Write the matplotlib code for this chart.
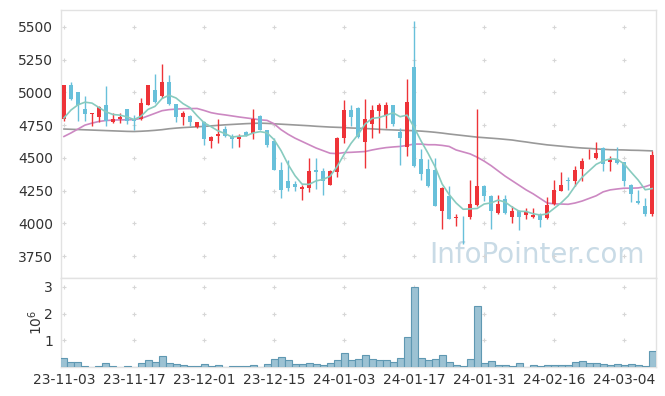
import matplotlib
matplotlib.use("Agg")
import matplotlib.pyplot as plt
import numpy as np

# trading-day tick labels (every 10th session)
tick_labels = ["23-11-03", "23-11-17", "23-12-01", "23-12-15", "24-01-03",
               "24-01-17", "24-01-31", "24-02-16", "24-03-04"]

opens = [4800, 5060, 5005, 4875, 4835, 4810, 4900, 4770, 4795, 4875,
         4800, 4800, 4905, 5020, 4970, 5080, 4910, 4810, 4820, 4735,
         4775, 4625, 4670, 4720, 4670, 4640, 4700, 4690, 4820, 4715,
         4630, 4410, 4320, 4300, 4265, 4270, 4410, 4400, 4295, 4395,
         4650, 4865, 4880, 4620, 4760, 4855, 4825, 4900, 4695, 4585,
         5190, 4490, 4415, 4405, 4090, 4210, 4040, 4050, 4045, 4140,
         4285, 4210, 4075, 4185, 4045, 4095, 4065, 4045, 4065, 4040,
         4145, 4250, 4330, 4320, 4415, 4495, 4495, 4575, 4465, 4490,
         4465, 4295, 4170, 4135, 4070]
highs = [5060, 5080, 5005, 4970, 4845, 4895, 5050, 4840, 4840, 4875,
         4830, 4960, 5060, 5140, 5220, 5135, 4910, 4855, 4830, 4775,
         4780, 4665, 4795, 4740, 4685, 4680, 4705, 4870, 4830, 4715,
         4655, 4465, 4480, 4325, 4290, 4500, 4500, 4420, 4410, 4660,
         4945, 4900, 4885, 4950, 4905, 4915, 4925, 4905, 4730, 5100,
         5545, 4565, 4490, 4495, 4280, 4285, 4070, 4055, 4330, 4870,
         4290, 4215, 4215, 4215, 4130, 4100, 4115, 4115, 4075, 4200,
         4330, 4390, 4355, 4440, 4500, 4565, 4620, 4580, 4515, 4580,
         4470, 4300, 4255, 4190, 4550]
lows = [4780, 4940, 4780, 4780, 4745, 4770, 4745, 4765, 4765, 4760,
        4710, 4790, 4900, 4920, 4960, 4905, 4775, 4750, 4740, 4730,
        4600, 4575, 4610, 4660, 4575, 4580, 4670, 4645, 4710, 4585,
        4405, 4190, 4245, 4245, 4175, 4240, 4265, 4215, 4290, 4350,
        4610, 4740, 4655, 4420, 4650, 4690, 4730, 4740, 4445, 4515,
        4430, 4330, 4280, 4130, 3955, 4030, 3980, 3845, 4030, 4135,
        4170, 3955, 4070, 4070, 4005, 3945, 4030, 4040, 3970, 4035,
        4140, 4245, 4255, 4285, 4325, 4490, 4490, 4400, 4400, 4455,
        4285, 4160, 4150, 4055, 4055]
closes = [5060, 4950, 4900, 4835, 4845, 4890, 4785, 4800, 4810, 4780,
          4785, 4915, 5060, 4925, 5080, 4910, 4810, 4845, 4770, 4775,
          4640, 4660, 4685, 4665, 4645, 4670, 4675, 4795, 4715, 4600,
          4410, 4255, 4270, 4280, 4280, 4400, 4390, 4325, 4400, 4650,
          4865, 4815, 4660, 4800, 4865, 4900, 4900, 4755, 4650, 4925,
          4435, 4375, 4285, 4135, 4270, 4035, 4050, 4045, 4150, 4285,
          4205, 4095, 4150, 4075, 4095, 4045, 4085, 4065, 4025, 4140,
          4255, 4295, 4325, 4410, 4475, 4502, 4540, 4455, 4490, 4460,
          4320, 4225, 4155, 4070, 4525]

ma5 = [4805, 4865, 4905, 4925, 4918, 4884, 4851, 4831, 4826, 4813,
       4792, 4818, 4870, 4893, 4953, 4978, 4957, 4914, 4883, 4822,
       4768, 4738, 4706, 4685, 4659, 4665, 4668, 4690, 4700, 4691,
       4639, 4555, 4450, 4363, 4299, 4297, 4324, 4335, 4359, 4433,
       4526, 4611, 4678, 4758, 4801, 4808, 4825, 4844, 4814, 4826,
       4733, 4628, 4534, 4431, 4300, 4220, 4155, 4107, 4110, 4113,
       4147, 4156, 4177, 4162, 4124, 4092, 4090, 4073, 4063, 4072,
       4114, 4156, 4208, 4285, 4352, 4401, 4450, 4476, 4492, 4489,
       4453, 4390, 4330, 4256, 4265]
ma20 = [4663, 4690, 4720, 4750, 4765, 4778, 4785, 4788, 4790, 4790,
        4792, 4800, 4820, 4840, 4860, 4868, 4872, 4875, 4876, 4877,
        4862, 4845, 4835, 4828, 4820, 4812, 4805, 4798, 4790, 4786,
        4760, 4715, 4680, 4650, 4625, 4600, 4575, 4555, 4535, 4532,
        4540, 4542, 4545, 4548, 4560, 4570, 4578, 4583, 4587, 4595,
        4605, 4605, 4600, 4600, 4595, 4587, 4560, 4545, 4530, 4505,
        4475, 4440, 4400, 4360, 4325, 4290, 4255, 4225, 4190, 4155,
        4148, 4147, 4145, 4155, 4170, 4190, 4210, 4240, 4255, 4262,
        4268, 4268, 4270, 4280, 4298]
ma120 = [4720, 4718, 4716, 4714, 4712, 4710, 4708, 4706, 4704, 4702,
         4701, 4703, 4706, 4710, 4715, 4722, 4727, 4731, 4734, 4737,
         4740, 4744, 4748, 4752, 4755, 4758, 4761, 4763, 4765, 4763,
         4760, 4757, 4754, 4751, 4748, 4745, 4741, 4738, 4735, 4733,
         4731, 4728, 4726, 4724, 4721, 4718, 4715, 4713, 4711, 4709,
         4707, 4704, 4700, 4695, 4689, 4682, 4676, 4670, 4664, 4658,
         4654, 4650, 4646, 4641, 4636, 4628, 4621, 4613, 4606, 4599,
         4594, 4589, 4584, 4579, 4575, 4572, 4568, 4565, 4562, 4561,
         4560, 4558, 4557, 4555, 4553]

# volume in millions of shares
volume_m = [0.35, 0.20, 0.20, 0.05, 0.02, 0.05, 0.16, 0.05, 0.02, 0.05,
            0.02, 0.16, 0.25, 0.20, 0.40, 0.16, 0.12, 0.09, 0.05, 0.05,
            0.12, 0.05, 0.09, 0.02, 0.05, 0.05, 0.05, 0.09, 0.02, 0.12,
            0.31, 0.39, 0.28, 0.12, 0.12, 0.16, 0.12, 0.09, 0.17, 0.25,
            0.54, 0.27, 0.31, 0.46, 0.31, 0.27, 0.25, 0.20, 0.35, 1.14,
            3.01, 0.35, 0.25, 0.31, 0.46, 0.20, 0.09, 0.05, 0.31, 2.30,
            0.16, 0.24, 0.09, 0.09, 0.05, 0.16, 0.02, 0.09, 0.05, 0.09,
            0.09, 0.09, 0.09, 0.20, 0.24, 0.16, 0.16, 0.12, 0.09, 0.12,
            0.09, 0.12, 0.09, 0.05, 0.61]

UP = "#ee3338"
DOWN = "#68c0da"
GRID = "#d6d6d6"
TXT = "#333333"

o = np.array(opens)
c = np.array(closes)
x = np.arange(len(o))
up = c >= o

fig = plt.figure(figsize=(6.65, 3.96), dpi=100)
ax = fig.add_axes([0.092, 0.298, 0.894, 0.677])
axv = fig.add_axes([0.092, 0.073, 0.894, 0.225], sharex=ax)

colors = np.where(up, UP, DOWN)
ax.vlines(x, lows, highs, colors=colors, linewidth=1.0, zorder=3)
ax.bar(x, np.abs(c - o), bottom=np.minimum(o, c), width=0.62,
       color=colors, linewidth=0, zorder=4)

ax.plot(x, ma120, color="#999999", linewidth=1.2, zorder=2)
ax.plot(x, ma20, color="#cc88c2", linewidth=1.2, zorder=2)
ax.plot(x, ma5, color="#88cbbf", linewidth=1.2, zorder=5)

ax.set_xlim(-0.4, 84.5)
ax.set_ylim(3582, 5630)
ax.set_yticks([3750, 4000, 4250, 4500, 4750, 5000, 5250, 5500])
ax.set_xticks(np.arange(0, 81, 10))

# watermark
ax.text(0.80, 0.085, "InfoPointer.com", transform=ax.transAxes,
        fontsize=20, color="#c9dbe6", ha="center", va="center", zorder=1)

axv.bar(x, volume_m, width=1.0, color="#9cc2d3", edgecolor="#5f98b2",
        linewidth=0.8, zorder=3)
axv.set_ylim(0, 3.33)
axv.set_yticks([1, 2, 3])
axv.set_xticks(np.arange(0, 81, 10))
axv.set_xticklabels(tick_labels)
axv.set_ylabel(r"$10^6$", fontsize=10, color=TXT, labelpad=-1)

for a in (ax, axv):
    for s in a.spines.values():
        s.set_color("#e2e2e2")
        s.set_linewidth(1.0)
    a.tick_params(length=0, labelsize=10, colors=TXT, pad=6)
    # "+" markers at grid crossings
    xs, ys = np.meshgrid(a.get_xticks(), a.get_yticks())
    a.scatter(xs.ravel(), ys.ravel(), marker="+", s=12, color=GRID,
              linewidth=0.8, zorder=1)
plt.setp(ax.get_xticklabels(), visible=False)
axv.tick_params(axis="x", pad=4)

fig.savefig("out.png", dpi=100)
